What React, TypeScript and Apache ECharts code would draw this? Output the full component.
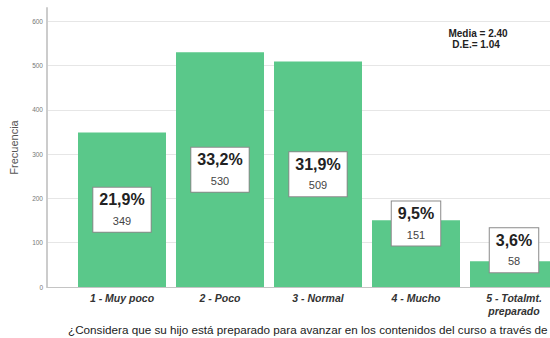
import React, { useEffect, useRef } from "react";
import * as echarts from "echarts";

const categories = ["1 - Muy poco", "2 - Poco", "3 - Normal", "4 - Mucho", "5 - Totalmt.\npreparado"];
const counts = [349, 530, 509, 151, 58];
const percentLabels = ["21,9%", "33,2%", "31,9%", "9,5%", "3,6%"];
const statsLines = ["Media = 2.40", "D.E.= 1.04"];
const axisTitle = "Frecuencia";
const questionText =
  "¿Considera que su hijo está preparado para avanzar en los contenidos del curso a través de";

const FONT = "'Liberation Sans', Arial, sans-serif";
const BAR_COLOR = "#5ac88a";

export default function App() {
  const ref = useRef<HTMLDivElement>(null);

  useEffect(() => {
    if (!ref.current) return;
    const chart = echarts.init(ref.current, undefined, { renderer: "svg" });
    const labelShift = [0, 0, 0, -30, -24];

    chart.setOption({
      animation: false,
      backgroundColor: "#ffffff",
      textStyle: { fontFamily: FONT },
      grid: [
        { left: 46, right: 0, top: 8, bottom: 51 },
        { left: 122, right: 36, top: 8, bottom: 51 },
      ],
      xAxis: [
        {
          type: "value",
          gridIndex: 0,
          min: 0,
          max: 1,
          axisLine: { show: true, lineStyle: { color: "#c4c4c4", width: 1 } },
          axisTick: { show: false },
          axisLabel: { show: false },
          splitLine: { show: false },
        },
        {
          type: "category",
          gridIndex: 1,
          data: categories,
          boundaryGap: false,
          axisLine: { show: false },
          axisTick: { show: false },
          axisLabel: {
            fontSize: 10.5,
            fontWeight: "bold",
            fontStyle: "italic",
            color: "#333",
            margin: 4,
            lineHeight: 13,
            fontFamily: FONT,
            interval: 0,
          },
          splitLine: { show: false },
        },
      ],
      yAxis: [
        {
          type: "value",
          gridIndex: 0,
          min: 0,
          max: 630,
          interval: 100,
          name: axisTitle,
          nameLocation: "middle",
          nameGap: 28,
          nameRotate: 90,
          nameTextStyle: { fontSize: 11, color: "#555", fontFamily: FONT },
          axisLine: { show: true, lineStyle: { color: "#cccccc", width: 2 } },
          axisTick: { show: false },
          axisLabel: { fontSize: 6.5, color: "#777", margin: 4, showMaxLabel: false, fontFamily: FONT },
          splitLine: { show: true, showMaxLine: false, lineStyle: { color: "#e6e6e6", width: 1 } },
        },
        {
          type: "value",
          gridIndex: 1,
          min: 0,
          max: 630,
          show: false,
          splitLine: { show: false },
        },
      ],
      series: [
        { type: "line", xAxisIndex: 0, yAxisIndex: 0, data: [], silent: true },
        {
          type: "bar",
          xAxisIndex: 1,
          yAxisIndex: 1,
          barWidth: 88,
          clip: false,
          itemStyle: { color: BAR_COLOR },
          data: counts.map((v, i) => ({
            value: v,
            label: { offset: [0, labelShift[i]] },
          })),
          label: {
            show: true,
            position: "inside",
            backgroundColor: "#ffffff",
            borderColor: "#8a8a8a",
            borderWidth: 1,
            padding: [1, 6, 1, 6],
            formatter: (p: any) => `{pct|${percentLabels[p.dataIndex]}}\n{n|${counts[p.dataIndex]}}`,
            rich: {
              pct: { fontSize: 16, fontWeight: "bold", color: "#222", lineHeight: 22, fontFamily: FONT, align: "center" },
              n: { fontSize: 11, color: "#444", lineHeight: 20, fontFamily: FONT, align: "center" },
            },
          },
        },
      ],
      graphic: [
        {
          type: "text",
          x: 478,
          y: 33,
          style: {
            text: statsLines[0],
            fontSize: 10,
            fontWeight: "bold",
            fill: "#222",
            fontFamily: FONT,
            align: "center",
            verticalAlign: "middle",
          },
        },
        {
          type: "text",
          x: 476,
          y: 44,
          style: {
            text: statsLines[1],
            fontSize: 10,
            fontWeight: "bold",
            fill: "#222",
            fontFamily: FONT,
            align: "center",
            verticalAlign: "middle",
          },
        },
        {
          type: "text",
          x: 68,
          y: 323,
          style: {
            text: questionText,
            fontSize: 11.7,
            fill: "#222",
            fontFamily: FONT,
            align: "left",
            verticalAlign: "top",
          },
        },
      ],
    });

    return () => chart.dispose();
  }, []);

  return (
    <div
      ref={ref}
      style={{ position: "fixed", left: 0, top: 0, width: 550, height: 338 }}
    />
  );
}
